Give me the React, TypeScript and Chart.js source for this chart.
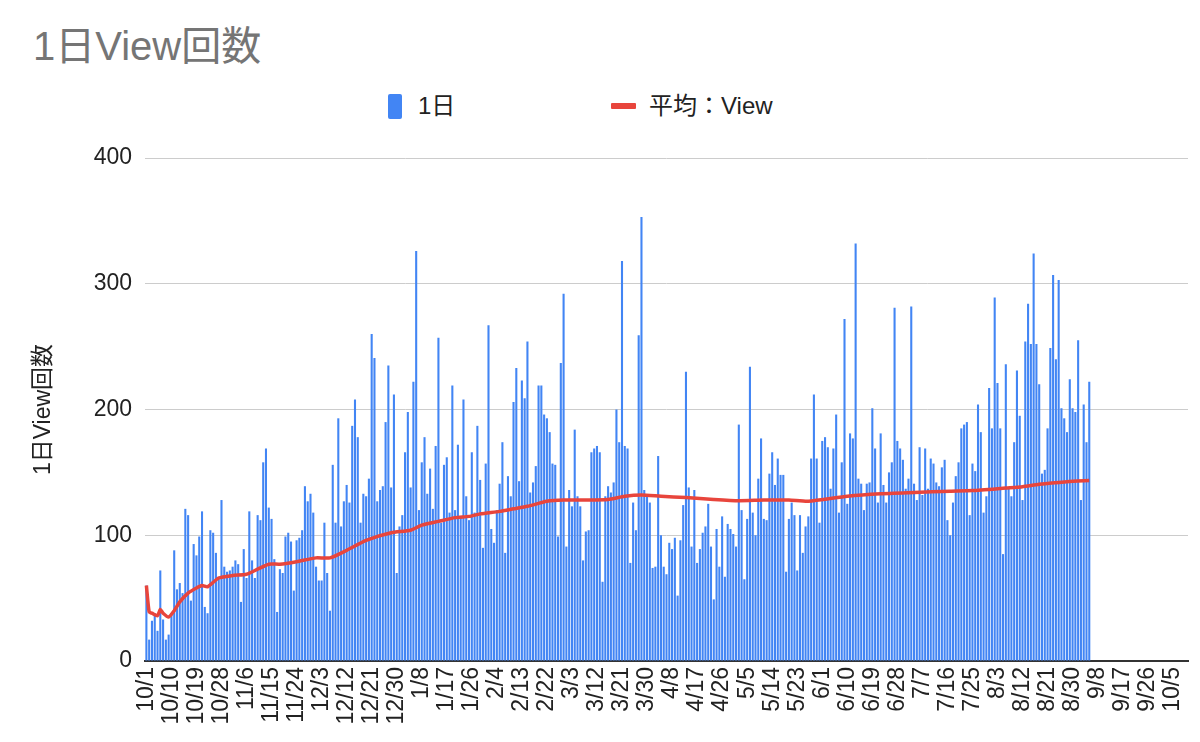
import { useEffect, useRef } from "react"
import { Chart, registerables } from "chart.js"

Chart.register(...registerables)

// calendar for the x axis: 10/1 through 10/10 of the following year
const MONTHS = [10, 11, 12, 1, 2, 3, 4, 5, 6, 7, 8, 9, 10]
const MONTH_DAYS = [31, 30, 31, 31, 28, 31, 30, 31, 30, 31, 31, 30, 10]
const DAYS: string[] = []
MONTHS.forEach((m, i) => {
  for (let d = 1; d <= MONTH_DAYS[i]; d++) DAYS.push(`${m}/${d}`)
})
const TICK_EVERY = 9

// views per day, from 10/1 to 9/5
const DAILY_VIEWS = [
  60, 17, 32, 38, 24, 72, 33, 17, 21, 38,
  88, 57, 62, 54, 121, 116, 48, 93, 84, 99,
  119, 43, 38, 104, 102, 86, 67, 128, 75, 71,
  72, 75, 80, 77, 47, 89, 66, 119, 80, 66,
  116, 112, 158, 169, 122, 113, 81, 39, 73, 70,
  99, 102, 95, 56, 96, 98, 104, 139, 127, 133,
  118, 75, 64, 64, 110, 70, 40, 156, 110, 193,
  107, 127, 140, 126, 187, 208, 178, 110, 133, 131,
  145, 260, 241, 127, 136, 139, 190, 235, 138, 212,
  70, 107, 116, 166, 198, 138, 222, 326, 120, 158,
  178, 133, 153, 121, 171, 257, 110, 156, 162, 118,
  219, 120, 172, 115, 208, 131, 112, 166, 118, 187,
  144, 90, 157, 267, 105, 94, 120, 141, 174, 86,
  147, 131, 206, 233, 143, 223, 209, 254, 134, 142,
  155, 219, 219, 196, 193, 182, 157, 156, 99, 237,
  292, 91, 136, 123, 184, 131, 123, 80, 103, 104,
  166, 169, 171, 166, 63, 131, 139, 134, 142, 200,
  174, 318, 171, 169, 78, 126, 104, 259, 353, 136,
  132, 126, 74, 75, 163, 100, 75, 69, 94, 89,
  98, 52, 96, 124, 230, 138, 91, 136, 78, 89,
  102, 107, 125, 91, 49, 105, 75, 115, 67, 109,
  105, 101, 91, 188, 120, 65, 113, 234, 118, 100,
  145, 177, 113, 112, 149, 166, 140, 161, 148, 148,
  71, 113, 126, 116, 72, 116, 86, 107, 115, 161,
  212, 161, 110, 175, 178, 170, 137, 169, 196, 118,
  158, 272, 125, 181, 177, 332, 145, 141, 120, 141,
  142, 201, 169, 126, 181, 140, 126, 150, 158, 281,
  175, 169, 160, 137, 145, 282, 141, 128, 170, 132,
  169, 137, 161, 157, 142, 139, 154, 160, 112, 100,
  126, 147, 158, 185, 188, 190, 116, 157, 151, 204,
  182, 118, 131, 217, 185, 289, 221, 185, 85, 236,
  137, 131, 174, 231, 195, 128, 254, 284, 252, 324,
  252, 220, 149, 152, 185, 249, 307, 240, 303, 201,
  193, 182, 224, 201, 198, 255, 128, 204, 174, 222,
]

// running average, read at these dates
const AVG_DATES = [
  "10/1", "10/2", "10/3", "10/5", "10/6", "10/7", "10/9", "10/11", "10/13", "10/16",
  "10/19", "10/21", "10/23", "10/27", "11/1", "11/6", "11/10", "11/14", "11/18", "11/24",
  "12/1", "12/6", "12/12", "12/19", "12/28", "1/4", "1/8", "1/14", "1/20", "1/25",
  "1/29", "2/5", "2/10", "2/15", "2/22", "2/28", "3/8", "3/16", "3/22", "3/28",
  "4/4", "4/13", "4/23", "5/2", "5/11", "5/20", "5/27", "6/10", "6/22", "7/4",
  "7/17", "7/25", "8/6", "8/12", "8/18", "8/28", "9/5",
]
const AVG_VALUES = [
  60, 39, 38, 36, 41, 38, 35, 40, 47, 54,
  58, 60, 59, 66, 68, 69, 73, 77, 77, 79,
  82, 82, 88, 96, 102, 104, 108, 111, 114, 115,
  117, 119, 121, 123, 127, 128, 128, 128.5, 131, 132,
  131, 130, 128.5, 127.5, 128, 128, 127, 131, 133, 134,
  135, 135.5, 137.5, 138.5, 140.5, 142.5, 143.5,
]

const Y_TICKS = [0, 100, 200, 300, 400]

const BLUE = "#4285F4"
const RED = "#E8453C"
const FONT = '"Liberation Sans", Arial, "Noto Sans CJK JP", sans-serif'

export default function App() {
  const canvasRef = useRef<HTMLCanvasElement>(null)
  const chartInstance = useRef<Chart | null>(null)

  useEffect(() => {
    document.body.style.margin = "0"
    if (!canvasRef.current) return

    if (chartInstance.current) {
      chartInstance.current.destroy()
    }

    const ctx = canvasRef.current.getContext("2d")
    if (!ctx) return

    const avgData: (number | null)[] = DAYS.map(() => null)
    AVG_DATES.forEach((d, i) => {
      avgData[DAYS.indexOf(d)] = AVG_VALUES[i]
    })

    chartInstance.current = new Chart(ctx, {
      type: "bar",
      data: {
        labels: DAYS,
        datasets: [
          {
            type: "bar",
            label: "1日",
            data: DAILY_VIEWS,
            backgroundColor: BLUE,
            borderWidth: 0,
            categoryPercentage: 1,
            barPercentage: 0.75,
            order: 1,
          },
          {
            type: "line",
            label: "平均：View",
            data: avgData,
            borderColor: RED,
            borderWidth: 3.5,
            pointRadius: 0,
            spanGaps: true,
            tension: 0.2,
            order: 0,
          } as any,
        ],
      },
      options: {
        animation: false,
        responsive: true,
        maintainAspectRatio: false,
        layout: { padding: { left: 30, right: 12, top: 28, bottom: 0 } },
        plugins: {
          legend: { display: false },
          tooltip: { enabled: false },
        },
        scales: {
          x: {
            grid: { display: false, drawTicks: false },
            border: { color: "#333333", width: 2 },
            afterFit: (scale: any) => {
              scale.height = 81
              scale.paddingLeft = 0
              scale.paddingRight = 0
            },
            ticks: {
              autoSkip: false,
              minRotation: 90,
              maxRotation: 90,
              padding: 6,
              color: "#222222",
              font: { family: FONT, size: 23 },
              callback: function (this: any, value: any, index: number) {
                return index % TICK_EVERY === 0 ? this.getLabelForValue(value) : ""
              },
            },
          },
          y: {
            min: Y_TICKS[0],
            max: Y_TICKS[Y_TICKS.length - 1],
            afterFit: (scale: any) => {
              scale.width = 115
            },
            afterBuildTicks: (scale: any) => {
              scale.ticks = Y_TICKS.map((v) => ({ value: v }))
            },
            grid: { color: "#CCCCCC", lineWidth: 1, drawTicks: false },
            border: { display: false },
            ticks: {
              padding: 13,
              color: "#222222",
              font: { family: FONT, size: 23 },
            },
            title: {
              display: true,
              text: "1日View回数",
              color: "#222222",
              font: { family: FONT, size: 23 },
              padding: { top: 0, bottom: 0 },
            },
          },
        },
      },
    })

    return () => {
      if (chartInstance.current) {
        chartInstance.current.destroy()
        chartInstance.current = null
      }
    }
  }, [])

  return (
    <div style={{ position: "relative", width: 1200, height: 742, background: "#fff", fontFamily: FONT, overflow: "hidden" }}>
      <div style={{ position: "absolute", left: 33, top: 26, fontSize: 40, lineHeight: "40px", color: "#757575", whiteSpace: "nowrap" }}>
        1日View回数
      </div>
      <div style={{ position: "absolute", left: 388, top: 93, height: 26, display: "flex", alignItems: "center" }}>
        <div style={{ width: 14, height: 25, background: BLUE, borderRadius: 2 }} />
        <span style={{ marginLeft: 16, fontSize: 24, lineHeight: "26px", color: "#222" }}>1日</span>
      </div>
      <div style={{ position: "absolute", left: 611, top: 93, height: 26, display: "flex", alignItems: "center" }}>
        <div style={{ width: 25, height: 6, background: RED, borderRadius: 1 }} />
        <span style={{ marginLeft: 13, fontSize: 24, lineHeight: "26px", color: "#222" }}>平均：View</span>
      </div>
      <div style={{ position: "absolute", left: 0, top: 130, width: 1200, height: 612 }}>
        <canvas ref={canvasRef} />
      </div>
    </div>
  )
}
